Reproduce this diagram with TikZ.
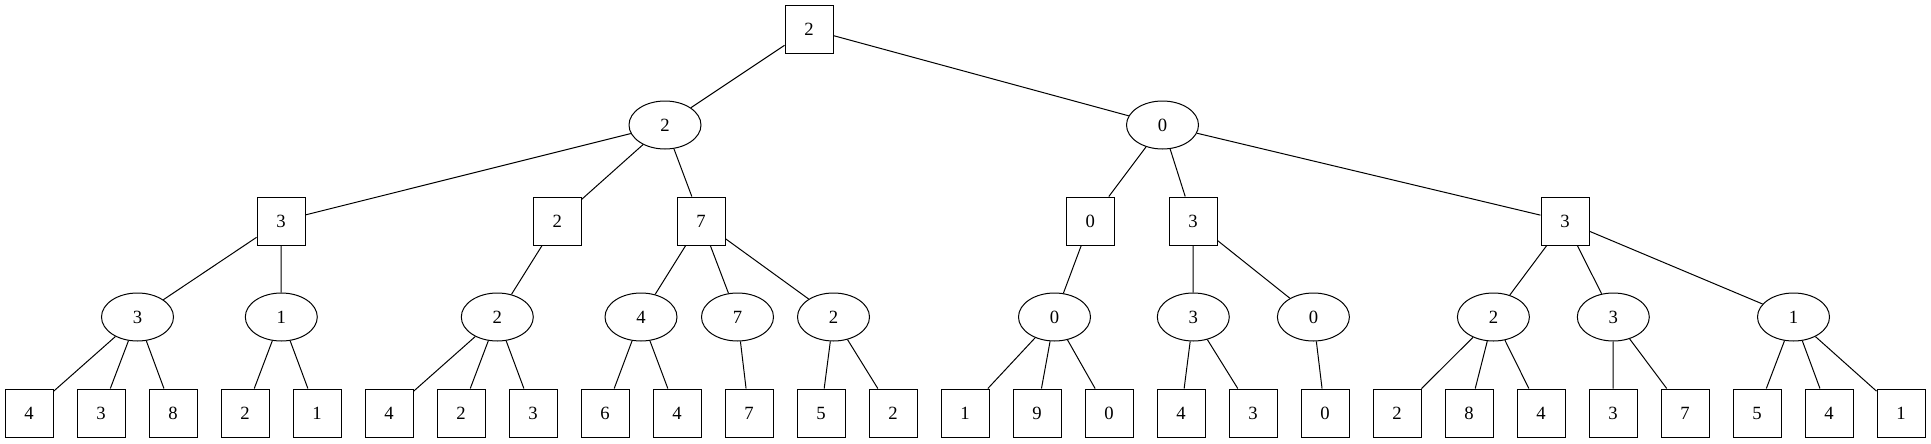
\documentclass[tikz,border=0pt]{standalone}
\usepackage{fontspec}
\setmainfont{Liberation Serif}
\tikzset{
  maxbox/.style={draw, rectangle, minimum width=36pt, minimum height=36pt, inner sep=0pt},
  minell/.style={draw, ellipse, minimum width=54pt, minimum height=36pt, inner sep=0pt},
}
\usetikzlibrary{shapes.geometric}
\begin{document}
\begin{tikzpicture}[x=0.75pt, y=-0.75pt, line width=0.75pt, font=\fontsize{14}{16}\selectfont]
    \useasboundingbox (0,0) rectangle (1931,443);
    % Raiz
    \node[maxbox] (r) at (809,29) {2};
    % Nivel 1
    \node[minell] (a) at (665,125) {2};
    \node[minell] (b) at (1162.5,125) {0};
    % Nivel 2
    \node[maxbox] (a1) at (281,221) {3};
    \node[maxbox] (a2) at (557.4,221) {2};
    \node[maxbox] (a3) at (701,221) {7};
    \node[maxbox] (b1) at (1090.4,221) {0};
    \node[maxbox] (b2) at (1193,221) {3};
    \node[maxbox] (b3) at (1565,221) {3};
    % Nivel 3
    \node[minell] (a11) at (137.5,317) {3};
    \node[minell] (a12) at (281.3,317) {1};
    \node[minell] (a21) at (497.3,317) {2};
    \node[minell] (a31) at (641,317) {4};
    \node[minell] (a32) at (737.5,317) {7};
    \node[minell] (a33) at (833.5,317) {2};
    \node[minell] (b11) at (1054.5,317) {0};
    \node[minell] (b21) at (1193.3,317) {3};
    \node[minell] (b22) at (1313.4,317) {0};
    \node[minell] (b31) at (1493.4,317) {2};
    \node[minell] (b32) at (1613.3,317) {3};
    \node[minell] (b33) at (1793.5,317) {1};
    % Hojas
    \foreach \v [count=\i from 0] in {4,3,8,2,1,4,2,3,6,4,7,5,2,1,9,0,4,3,0,2,8,4,3,7,5,4,1}
        \node[maxbox] (l\i) at (29+72*\i,413) {\v};
    % Aristas
    \foreach \p/\c in {r/a, r/b,
                       a/a1, a/a2, a/a3, b/b1, b/b2, b/b3,
                       a1/a11, a1/a12, a2/a21, a3/a31, a3/a32, a3/a33,
                       b1/b11, b2/b21, b2/b22, b3/b31, b3/b32, b3/b33,
                       a11/l0, a11/l1, a11/l2, a12/l3, a12/l4,
                       a21/l5, a21/l6, a21/l7, a31/l8, a31/l9, a32/l10,
                       a33/l11, a33/l12, b11/l13, b11/l14, b11/l15,
                       b21/l16, b21/l17, b22/l18, b31/l19, b31/l20, b31/l21,
                       b32/l22, b32/l23, b33/l24, b33/l25, b33/l26}
        \draw (\p) -- (\c);
\end{tikzpicture}
\end{document}
